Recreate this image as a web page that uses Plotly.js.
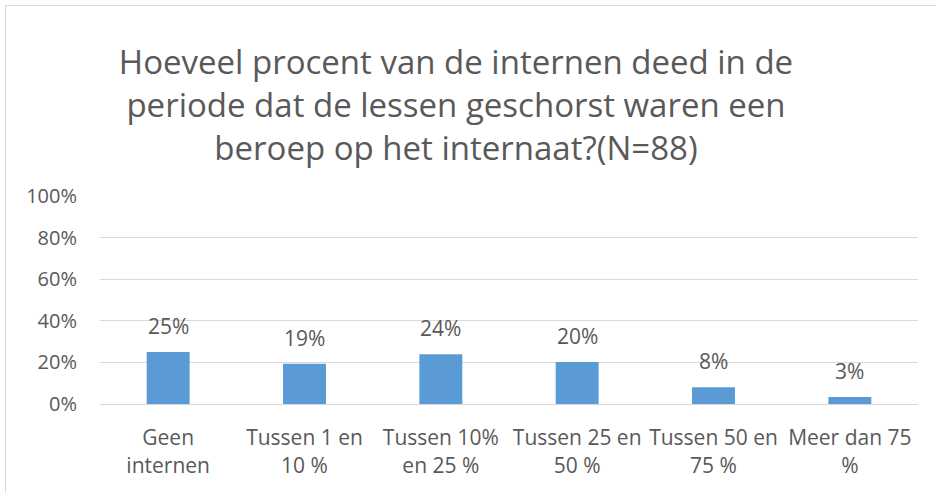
<!DOCTYPE html>
<html>
<head>
<meta charset="utf-8">
<script src="https://cdn.plot.ly/plotly-3.0.1.min.js"></script>
<style>
  html, body { margin: 0; padding: 0; background: #ffffff; }
  #wrap { position: relative; width: 936px; height: 493px; overflow: hidden; }
  #frame { position: absolute; left: 5px; top: 5px; width: 960px; height: 600px; border-left: 1px solid #d9d9d9; border-top: 1px solid #d9d9d9; }
  #chart { position: absolute; left: 0; top: 0; width: 936px; height: 493px; }
</style>
</head>
<body>
<div id="wrap">
  <div id="frame"></div>
  <div id="chart"></div>
</div>
<script>
const categories = [
  "Geen<br>internen",
  "Tussen 1 en<br>10 %",
  "Tussen 10%<br>en 25 %",
  "Tussen 25 en<br>50 %",
  "Tussen 50 en<br>75 %",
  "Meer dan 75<br>%"
];
const shares = [0.25, 0.193, 0.239, 0.202, 0.080, 0.034];
const yTickValues = [0, 0.2, 0.4, 0.6, 0.8, 1.0];
const yTickLabels = ["0%", "20%", "40%", "60%", "80%", "100%"];
const titleText = "Hoeveel procent van de internen deed in de<br>periode dat de lessen geschorst waren een<br>beroep op het internaat?(N=88)";

const textColor = "#595959";
const fontFamily = "'Open Sans', 'Liberation Sans', sans-serif";

const trace = {
  type: "bar",
  x: categories,
  y: shares,
  marker: { color: "#5b9bd5" },
  hoverinfo: "skip"
};

const labelAnnotations = categories.map((c, i) => ({
  x: c,
  y: shares[i],
  xref: "x",
  yref: "y",
  text: Math.round(shares[i] * 100) + "%",
  showarrow: false,
  yanchor: "bottom",
  yshift: 10,
  font: { family: fontFamily, size: 21, color: textColor }
}));

const layout = {
  width: 936,
  height: 493,
  paper_bgcolor: "rgba(0,0,0,0)",
  plot_bgcolor: "rgba(0,0,0,0)",
  margin: { l: 100, r: 18, t: 196, b: 89, pad: 0 },
  bargap: 0.685,
  showlegend: false,
  font: { family: fontFamily, color: textColor },
  title: {
    text: titleText,
    font: { family: fontFamily, size: 33, color: textColor },
    x: 456 / 936,
    xanchor: "center",
    xref: "container",
    y: 1 - 74 / 493,
    yanchor: "top",
    yref: "container"
  },
  xaxis: {
    type: "category",
    showgrid: false,
    showline: true,
    linecolor: "#d9d9d9",
    linewidth: 1,
    ticks: "",
    ticklabelstandoff: 15,
    tickfont: { family: fontFamily, size: 21, color: textColor },
    fixedrange: true
  },
  yaxis: {
    range: [0, 1],
    tickvals: yTickValues,
    ticktext: yTickLabels,
    showgrid: true,
    gridcolor: "#d9d9d9",
    gridwidth: 1,
    zeroline: false,
    showline: false,
    ticks: "",
    ticklabelstandoff: 22,
    tickfont: { family: fontFamily, size: 20, color: textColor },
    fixedrange: true
  },
  annotations: labelAnnotations
};

Plotly.newPlot("chart", [trace], layout, { displayModeBar: false, staticPlot: true });
</script>
</body>
</html>
